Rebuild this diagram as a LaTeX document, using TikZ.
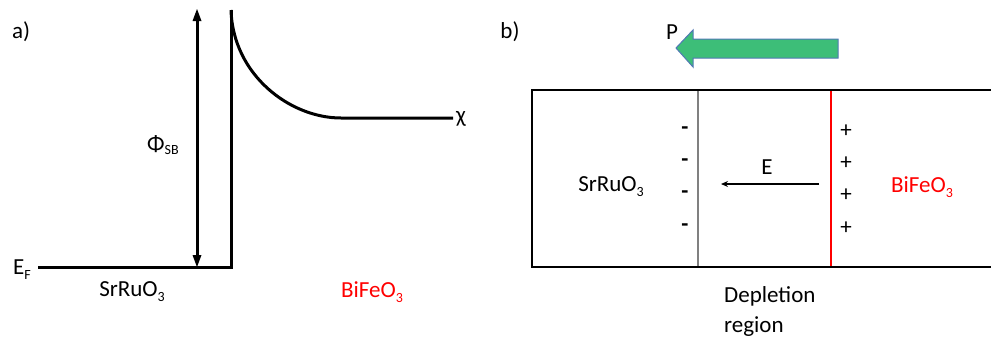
\documentclass[tikz,border=0pt]{standalone}
\usepackage{fontspec}
\setmainfont{Carlito}
\usetikzlibrary{arrows.meta}
\tikzset{
  lbl/.style={inner sep=0pt, font=\fontsize{23}{27}\selectfont},
  redlbl/.style={lbl, text={rgb,255:red,255;green,0;blue,0}},
  thickline/.style={line width=3pt},
}
\definecolor{pgreen}{RGB}{61,190,120}
\definecolor{pblue}{RGB}{80,120,180}
\definecolor{myred}{RGB}{255,0,0}
\begin{document}
\begin{tikzpicture}[x=1pt,y=-1pt]
\useasboundingbox (0,0) rectangle (991,338);
% ---------- panel a ----------
\node[lbl] (la) at (21,32) {a)};
\coordinate (ef0) at (38,267);
\coordinate (ef1) at (231,267);
\coordinate (top) at (231,10);
\coordinate (cb) at (341,118);
\coordinate (chiend) at (453,118);
\coordinate (arT) at (197,9);
\coordinate (arB) at (197,267);
\coordinate (arT2) at (197,20);
\coordinate (arB2) at (197,256);
\draw[thickline, line join=miter] (ef0) -- (ef1) -- (top);
\draw[thickline] (top) .. controls (233,75) and (290,118) .. (cb) -- (chiend);
\draw[thickline] (arT2) -- (arB2);
\fill (arT) -- (192.5,21) -- (201.5,21) -- cycle;
\fill (arB) -- (192.5,255) -- (201.5,255) -- cycle;
\node[lbl, anchor=west] (chi) at (456,119) {χ};
\node[lbl] (phi) at (163,145) {Φ\raisebox{-0.35ex}{\fontsize{14}{16}\selectfont SB}};
\node[lbl] (efl) at (22,270) {E\raisebox{-0.45ex}{\fontsize{14}{16}\selectfont F}};
\node[lbl] (sra) at (132,292) {SrRuO\raisebox{-0.45ex}{\fontsize{14}{16}\selectfont 3}};
\node[redlbl] (bfa) at (372,292) {BiFeO\raisebox{-0.45ex}{\fontsize{14}{16}\selectfont 3}};
% ---------- panel b ----------
\node[lbl] (lb) at (510,32) {b)};
\node[lbl] (pl) at (672,32) {P};
\draw[fill=pgreen, draw=pblue, line width=1pt]
  (838,39) -- (693,39) -- (693,30) -- (676,48) -- (693,67) -- (693,58) -- (838,58) -- cycle;
\coordinate (r0) at (992,90);
\coordinate (r1) at (532,90);
\coordinate (r2) at (532,267);
\coordinate (r3) at (992,267);
\draw[line width=2pt] (r0) -- (r1) -- (r2) -- (r3);
\draw[line width=1.3pt, gray] (698,91) -- (698,266);
\draw[line width=1.3pt, myred] (831,91) -- (831,266);
\foreach \yy in {131,163,195,228} {
  \node[lbl] at (685,\yy) {\textbf{-}};
  \node[lbl] at (846,\yy) {+};
}
\coordinate (e0) at (819,184);
\coordinate (e1) at (721,184);
\draw[line width=1.2pt, -{Stealth[length=7pt,width=6pt]}] (e0) -- (e1);
\node[lbl] (el) at (767,167) {E};
\node[lbl] (srb) at (611,187) {SrRuO\raisebox{-0.45ex}{\fontsize{14}{16}\selectfont 3}};
\node[redlbl] (bfb) at (922,187) {BiFeO\raisebox{-0.45ex}{\fontsize{14}{16}\selectfont 3}};
\node[lbl, anchor=west] (dep) at (724,296) {Depletion};
\node[lbl, anchor=west] (reg) at (724,327) {region};
\end{tikzpicture}
\end{document}
